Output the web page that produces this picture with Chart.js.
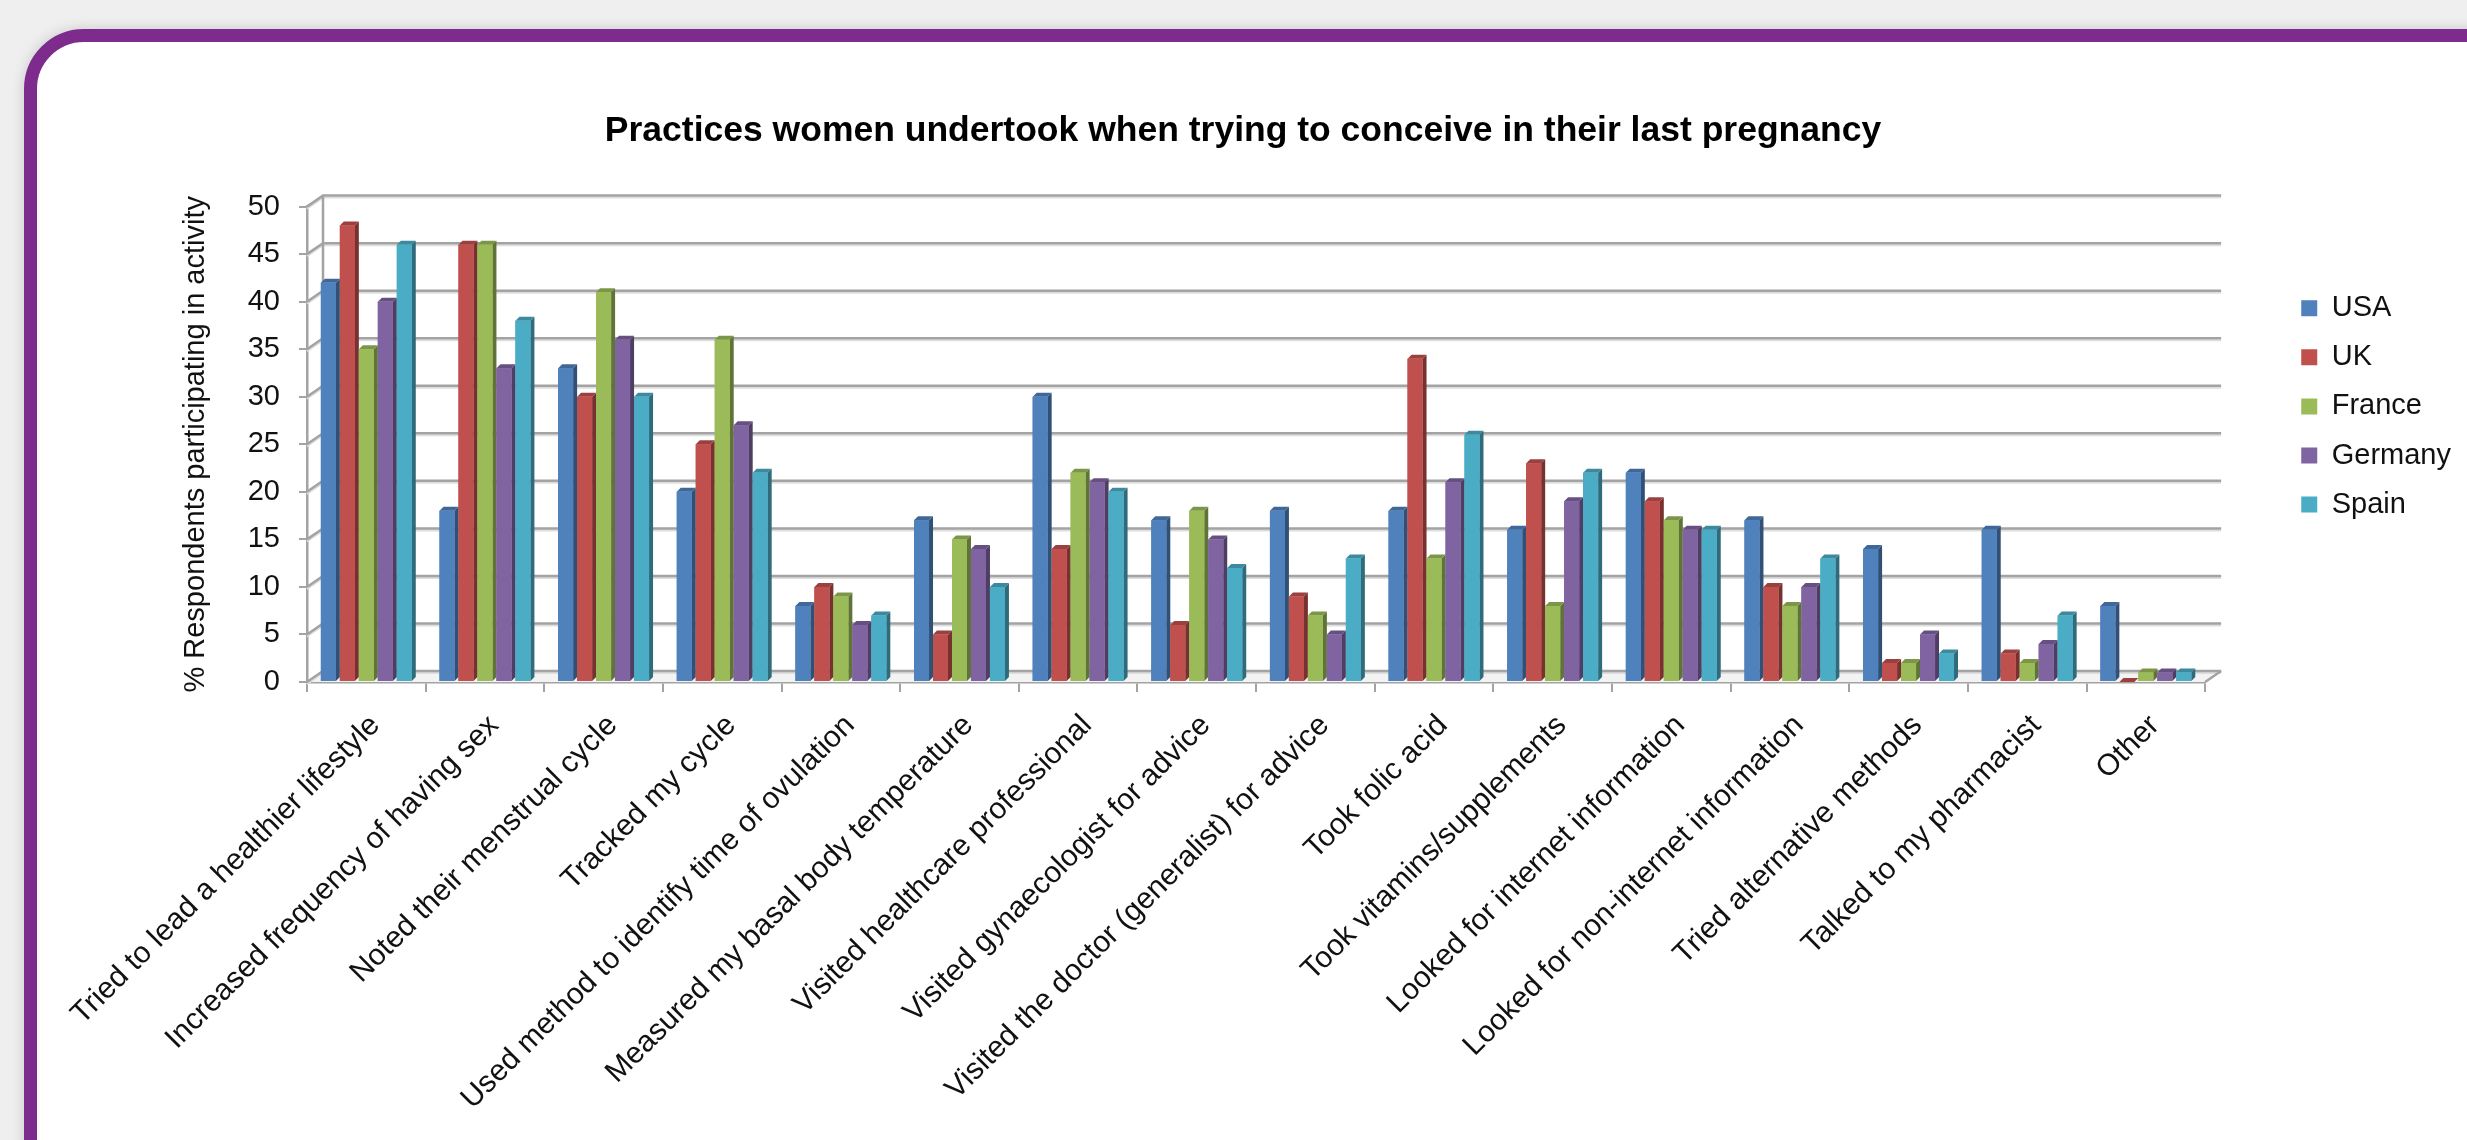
<!DOCTYPE html>
<html>
<head>
<meta charset="utf-8">
<script src="https://cdn.jsdelivr.net/npm/chart.js@4.4.1/dist/chart.umd.min.js"></script>
<style>
  html, body { margin: 0; padding: 0; }
  body { width: 2467px; height: 1140px; overflow: hidden; background: #efefef; position: relative; }
  .frame {
    position: absolute; left: 24px; top: 29px; width: 2520px; height: 1200px;
    box-sizing: border-box; border: 13px solid #7e2b8e; border-radius: 60px;
    background: #fff; box-shadow: 0 0 14px rgba(0, 0, 0, 0.16);
  }
  #chart { position: absolute; left: 0; top: 0; }
</style>
</head>
<body>
<div class="frame"></div>
<canvas id="chart" width="2467" height="1140"></canvas>
<script>
const categories = [
  'Tried to lead a healthier lifestyle',
  'Increased frequency of having sex',
  'Noted their menstrual cycle',
  'Tracked my cycle',
  'Used method to identify time of ovulation',
  'Measured my basal body temperature',
  'Visited healthcare professional',
  'Visited gynaecologist for advice',
  'Visited the doctor (generalist) for advice',
  'Took folic acid',
  'Took vitamins/supplements',
  'Looked for internet information',
  'Looked for non-internet information',
  'Tried alternative methods',
  'Talked to my pharmacist',
  'Other'
];
const countries = ['USA', 'UK', 'France', 'Germany', 'Spain'];
const usa     = [42, 18, 33, 20,  8, 17, 30, 17, 18, 18, 16, 22, 17, 14, 16, 8];
const uk      = [48, 46, 30, 25, 10,  5, 14,  6,  9, 34, 23, 19, 10,  2,  3, 0];
const france  = [35, 46, 41, 36,  9, 15, 22, 18,  7, 13,  8, 17,  8,  2,  2, 1];
const germany = [40, 33, 36, 27,  6, 14, 21, 15,  5, 21, 19, 16, 10,  5,  4, 1];
const spain   = [46, 38, 30, 22,  7, 10, 20, 12, 13, 26, 22, 16, 13,  3,  7, 1];
const yMin = 0, yMax = 50, yStep = 5;

const colors = ['#4f81bd', '#c0504d', '#9bbb59', '#8064a2', '#4bacc6'];
const series = [usa, uk, france, germany, spain];

// oblique offsets for the fake 3d look
const WALL_DX = 16, WALL_DY = 11;
const BAR_DX = 4, BAR_DY = 4;
const LINE = '#a3a3a3';

function shade(hex, f) {
  const n = parseInt(hex.slice(1), 16);
  const r = Math.round(((n >> 16) & 255) * f);
  const g = Math.round(((n >> 8) & 255) * f);
  const b = Math.round((n & 255) * f);
  return 'rgb(' + r + ',' + g + ',' + b + ')';
}

function poly(ctx, pts) {
  ctx.beginPath();
  ctx.moveTo(pts[0][0], pts[0][1]);
  for (let i = 1; i < pts.length; i++) ctx.lineTo(pts[i][0], pts[i][1]);
  ctx.closePath();
  ctx.fill();
}

const wall3d = {
  id: 'wall3d',
  beforeDatasetsDraw(chart) {
    const {ctx, chartArea: a} = chart;
    const y = chart.scales.y;
    const y0 = y.getPixelForValue(yMin);
    const yTop = y.getPixelForValue(yMax);
    ctx.save();
    ctx.fillStyle = '#f3f3f3';
    poly(ctx, [[a.left, y0], [a.left + WALL_DX, y0 - WALL_DY], [a.right + WALL_DX, y0 - WALL_DY], [a.right, y0]]);
    y.ticks.forEach(t => {
      const py = y.getPixelForValue(t.value);
      ctx.strokeStyle = '#dedede';
      ctx.lineWidth = 2;
      ctx.beginPath();
      ctx.moveTo(a.left, py + 2);
      ctx.lineTo(a.left + WALL_DX, py - WALL_DY + 2);
      ctx.lineTo(a.right + WALL_DX, py - WALL_DY + 2);
      ctx.stroke();
      ctx.strokeStyle = LINE;
      ctx.lineWidth = 2.5;
      ctx.beginPath();
      ctx.moveTo(a.left, py);
      ctx.lineTo(a.left + WALL_DX, py - WALL_DY);
      ctx.lineTo(a.right + WALL_DX, py - WALL_DY);
      ctx.stroke();
    });
    ctx.beginPath();
    ctx.moveTo(a.left + WALL_DX, y0 - WALL_DY);
    ctx.lineTo(a.left + WALL_DX, yTop - WALL_DY);
    ctx.moveTo(a.right, y0);
    ctx.lineTo(a.right + WALL_DX, y0 - WALL_DY);
    ctx.stroke();
    ctx.restore();
  },
  afterDatasetsDraw(chart) {
    const ctx = chart.ctx;
    const metas = series.map((s, i) => chart.getDatasetMeta(i));
    ctx.save();
    for (let j = 0; j < categories.length; j++) {
      metas.forEach((meta, i) => {
        const bar = meta.data[j];
        const {x, y, base, width} = bar.getProps(['x', 'y', 'base', 'width'], true);
        const l = x - width / 2, r = x + width / 2;
        ctx.fillStyle = shade(colors[i], 0.62);
        poly(ctx, [[r, y], [r + BAR_DX, y - BAR_DY], [r + BAR_DX, base - BAR_DY], [r, base]]);
        ctx.fillStyle = shade(colors[i], 0.8);
        poly(ctx, [[l, y], [l + BAR_DX, y - BAR_DY], [r + BAR_DX, y - BAR_DY], [r, y]]);
        bar.draw(ctx);
      });
    }
    ctx.restore();
  }
};

Chart.defaults.font.family = "'Liberation Sans', Arial, Helvetica, sans-serif";
Chart.defaults.color = '#111';

new Chart(document.getElementById('chart'), {
  type: 'bar',
  data: {
    labels: categories,
    datasets: countries.map((name, i) => ({
      label: name,
      data: series[i],
      backgroundColor: colors[i],
      borderWidth: 0,
      barPercentage: 0.79,
      categoryPercentage: 0.8
    }))
  },
  options: {
    responsive: false,
    animation: false,
    devicePixelRatio: 1,
    events: [],
    layout: { padding: { left: 25, top: 0, right: 6, bottom: 0 } },
    plugins: {
      tooltip: { enabled: false },
      title: {
        display: true,
        text: 'Practices women undertook when trying to conceive in their last pregnancy',
        color: '#000',
        font: { size: 35.5, weight: 'bold' },
        padding: { top: 110, bottom: 54 }
      },
      legend: {
        position: 'right',
        align: 'start',
        fullSize: false,
        title: { display: true, text: '', font: { size: 10 }, padding: { top: 55, bottom: 0 } },
        labels: { boxWidth: 16, boxHeight: 16, padding: 20.1, color: '#111', font: { size: 29 } }
      }
    },
    scales: {
      x: {
        grid: { display: true, drawOnChartArea: false, tickLength: 10, color: LINE, lineWidth: 2, offset: true },
        border: { display: true, color: LINE, width: 2.5 },
        ticks: { autoSkip: false, maxRotation: 45, minRotation: 45, padding: 16, labelOffset: 9, color: '#111', font: { size: 30 } },
        afterFit(s) { s.height = 458; }
      },
      y: {
        min: yMin,
        max: yMax,
        ticks: { stepSize: yStep, padding: 19, color: '#111', font: { size: 29 } },
        grid: { drawOnChartArea: false, tickLength: 8, color: LINE, lineWidth: 2 },
        border: { display: true, color: LINE, width: 2.5 },
        title: {
          display: true,
          text: '% Respondents participating in activity',
          color: '#111',
          font: { size: 29 },
          padding: { top: 154, bottom: 0 }
        },
        afterFit(s) { s.width = 282; }
      },
      gap: {
        type: 'linear',
        position: 'right',
        grid: { display: false },
        ticks: { display: false },
        border: { display: false },
        afterFit(s) { s.width = 76; }
      }
    }
  },
  plugins: [wall3d]
});
</script>
</body>
</html>
